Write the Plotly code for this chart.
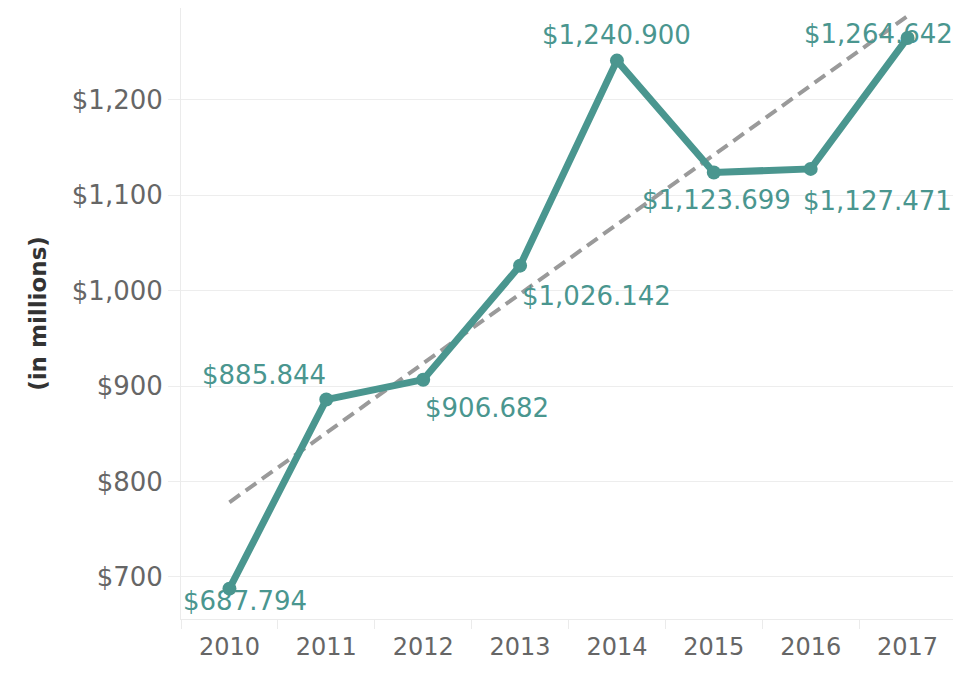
import numpy as np
import plotly.graph_objects as go

years = ["2010", "2011", "2012", "2013", "2014", "2015", "2016", "2017"]
values = [687.794, 885.844, 906.682, 1026.142, 1240.900, 1123.699, 1127.471, 1264.642]
labels = ["$687.794", "$885.844", "$906.682", "$1,026.142", "$1,240.900",
          "$1,123.699", "$1,127.471", "$1,264.642"]
label_shift_x = [16, -62, 64, 76, 0, 3, 67, -29]
label_shift_y = [-12, 25, -28, -30, 26, -28, -32, 4]
ytick_vals = [700, 800, 900, 1000, 1100, 1200]
ytick_text = ["$700", "$800", "$900", "$1,000", "$1,100", "$1,200"]

teal = "#4a968f"
font = "DejaVu Sans"

idx = list(range(len(years)))
boundaries = [i - 0.5 for i in range(len(years) + 1)]

# linear trend from the data
slope, intercept = np.polyfit(idx, values, 1)
trend = [intercept + slope * idx[0], intercept + slope * idx[-1]]

fig = go.Figure()
fig.add_trace(go.Scatter(
    x=[idx[0], idx[-1]], y=trend, mode="lines",
    line=dict(color="#9a9a9a", width=4, dash="13px,7px"), hoverinfo="skip"))
fig.add_trace(go.Scatter(
    x=idx, y=values, mode="lines+markers",
    line=dict(color=teal, width=7),
    marker=dict(color=teal, size=14), hoverinfo="skip"))

for i, v, t, dx, dy in zip(idx, values, labels, label_shift_x, label_shift_y):
    fig.add_annotation(x=i, y=v, text=t, showarrow=False, xshift=dx, yshift=dy,
                       font=dict(family=font, size=26, color=teal))

fig.update_layout(
    width=953, height=683,
    margin=dict(l=173, r=5, t=0, b=72),
    paper_bgcolor="white", plot_bgcolor="white",
    showlegend=False,
    font=dict(family=font),
)
fig.update_xaxes(
    range=[-0.5, len(years) - 0.5], tickvals=idx, ticktext=years,
    showgrid=False, showline=True, linecolor="#ebebeb", linewidth=1,
    ticks="", ticklabelstandoff=6,
    minor=dict(tickvals=boundaries, ticks="outside", ticklen=9,
               tickcolor="#ebebeb", showgrid=False),
    tickfont=dict(family=font, size=24, color="#666666"),
    zeroline=False, fixedrange=True,
)
fig.update_yaxes(
    range=[656, 1296], tickvals=ytick_vals, ticktext=ytick_text,
    showgrid=True, gridcolor="#ededed", gridwidth=1,
    showline=True, linecolor="#ebebeb", linewidth=1,
    ticks="outside", ticklen=12, tickcolor="#ededed",
    tickfont=dict(family=font, size=26, color="#666666"),
    title=dict(text="<b>(in millions)</b>", font=dict(family=font, size=23, color="#333333"),
               standoff=18),
    zeroline=False, fixedrange=True,
)
fig.write_html("out.html")
